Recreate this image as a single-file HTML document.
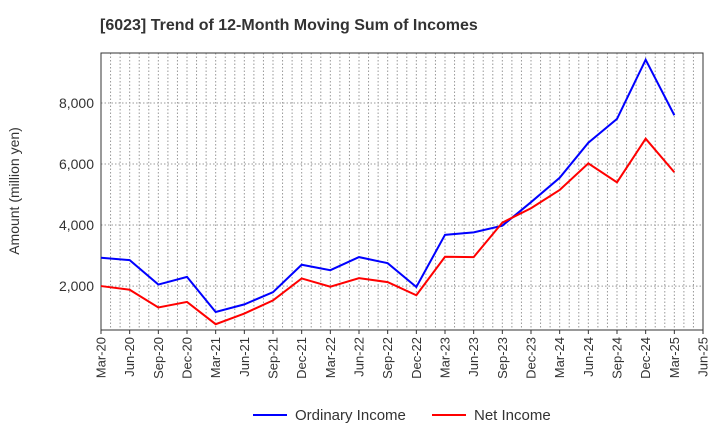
<!DOCTYPE html>
<html><head><meta charset="utf-8"><style>
body{margin:0;background:#fff;font-family:"Liberation Sans",sans-serif}
</style></head><body>
<svg id="c" width="720" height="440" xmlns="http://www.w3.org/2000/svg" font-family="Liberation Sans, sans-serif"></svg>
<script>
const categories=["Mar-20","Jun-20","Sep-20","Dec-20","Mar-21","Jun-21","Sep-21","Dec-21","Mar-22","Jun-22","Sep-22","Dec-22","Mar-23","Jun-23","Sep-23","Dec-23","Mar-24","Jun-24","Sep-24","Dec-24","Mar-25","Jun-25"];
const ordinaryIncome=[2930,2850,2050,2300,1150,1400,1800,2700,2520,2950,2750,1970,3680,3760,3980,4750,5550,6700,7480,9420,7600];
const netIncome=[2000,1880,1300,1480,750,1100,1530,2250,1980,2260,2130,1700,2960,2950,4080,4550,5150,6020,5400,6830,5730];
const yTicks=[2000,4000,6000,8000];
const yTickLabels=["2,000","4,000","6,000","8,000"];
const svg=document.getElementById('c');const NS="http://www.w3.org/2000/svg";
const L=101,R=703,T=53,B=330,yMin=560,yMax=9640;
const x=i=>L+(R-L)*i/(categories.length-1);
const y=v=>B-(v-yMin)/(yMax-yMin)*(B-T);
function add(tag,attrs,name,parent){const e=document.createElementNS(NS,tag);for(const k in attrs)e.setAttribute(k,attrs[k]);


(parent||svg).appendChild(e);return e;}
add('text',{x:100,y:30,'font-size':16,'font-weight':'bold',fill:'#333'},'chart-title').textContent="[6023]  Trend of 12-Month Moving Sum of Incomes";
const months=(categories.length-1)*3;
for(let m=1;m<months;m++){const xx=L+(R-L)*m/months;add('line',{x1:xx,x2:xx,y1:T,y2:B,stroke:'#999','stroke-dasharray':'1.5,2','stroke-width':1},'v-gridline');}
yTicks.forEach((t,i)=>{add('line',{x1:L,x2:R,y1:y(t),y2:y(t),stroke:'#999','stroke-dasharray':'1.5,2'},'h-gridline');
add('text',{x:L-7,y:y(t)+5,'text-anchor':'end','font-size':14,fill:'#333'},'y-tick-label').textContent=yTickLabels[i];});
add('rect',{x:L,y:T,width:R-L,height:B-T,fill:'none',stroke:'#333'},'plot-frame');
categories.forEach((c,i)=>{add('line',{x1:x(i),x2:x(i),y1:B,y2:B+4,stroke:'#333'},'x-tick');
add('text',{transform:`translate(${x(i)+4.5},${B+7}) rotate(-90)`,'text-anchor':'end','font-size':13,fill:'#333'},'x-tick-label').textContent=c;});
add('text',{transform:`translate(19,191) rotate(-90)`,'text-anchor':'middle','font-size':14,fill:'#333'},'y-axis-title').textContent="Amount (million yen)";
function series(d,col,name){add('polyline',{points:d.map((v,i)=>x(i)+','+y(v)).join(' '),fill:'none',stroke:col,'stroke-width':2},name);}
series(ordinaryIncome,'#0000ff','ordinary-income-line');
series(netIncome,'#ff0000','net-income-line');
add('line',{x1:253,x2:287,y1:415,y2:415,stroke:'#0000ff','stroke-width':2},'legend-ordinary-swatch');
add('text',{x:295,y:420,'font-size':15,fill:'#333'},'legend-ordinary-label').textContent="Ordinary Income";
add('line',{x1:432,x2:466,y1:415,y2:415,stroke:'#ff0000','stroke-width':2},'legend-net-swatch');
add('text',{x:474,y:420,'font-size':15,fill:'#333'},'legend-net-label').textContent="Net Income";
</script>
</body></html>
